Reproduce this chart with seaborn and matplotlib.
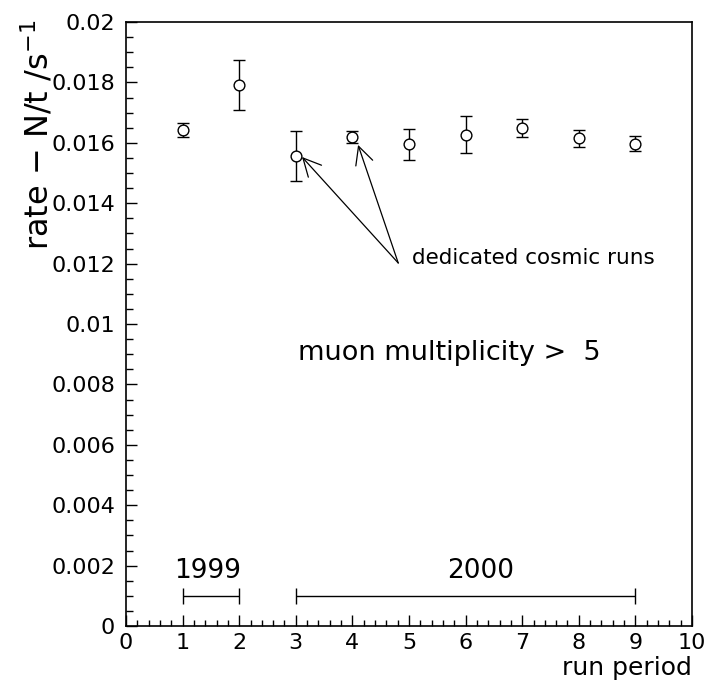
import numpy as np
import pandas as pd
import matplotlib
matplotlib.use("Agg")
import matplotlib.pyplot as plt
import seaborn as sns
from matplotlib.ticker import MultipleLocator

# ---- data ----
run_period = [1, 2, 3, 4, 5, 6, 7, 8, 9]
rate = [0.01641, 0.01790, 0.01557, 0.01620, 0.01595, 0.01627, 0.01648, 0.01615, 0.01597]
rate_err = [0.00023, 0.00083, 0.00082, 0.00020, 0.00051, 0.00062, 0.00030, 0.00028, 0.00025]

year_labels = ["1999", "2000"]
year_start = [1, 3]
year_end = [2, 9]

ytick_vals = [0, 0.002, 0.004, 0.006, 0.008, 0.01, 0.012, 0.014, 0.016, 0.018, 0.02]
ytick_labels = ["0", "0.002", "0.004", "0.006", "0.008", "0.01", "0.012", "0.014", "0.016", "0.018", "0.02"]
xtick_vals = [0, 1, 2, 3, 4, 5, 6, 7, 8, 9, 10]

df = pd.DataFrame({"run": run_period, "rate": rate, "err": rate_err})

sns.set_style("white")
plt.rcParams["font.family"] = ["DejaVu Sans"]
plt.rcParams["text.color"] = "black"

fig = plt.figure(figsize=(7.08, 6.83), dpi=100)
ax = fig.add_axes([126/708, 1 - 626/683, (692-126)/708, (626-22)/683])

ax.errorbar(df["run"], df["rate"], yerr=df["err"], fmt="none", ecolor="black",
            elinewidth=1.0, capsize=4, capthick=1.0, zorder=2)
sns.scatterplot(data=df, x="run", y="rate", ax=ax, marker="o", s=60,
                facecolor="white", edgecolor="black", linewidth=1.0, zorder=3)

ax.set_xlim(0, 10)
ax.set_ylim(0, 0.02)
ax.set_xticks(xtick_vals)
ax.set_xticklabels([str(v) for v in xtick_vals])
ax.set_yticks(ytick_vals)
ax.set_yticklabels(ytick_labels)
ax.xaxis.set_minor_locator(MultipleLocator(0.2))
ax.yaxis.set_minor_locator(MultipleLocator(0.0005))
ax.tick_params(axis="both", which="both", direction="in", top=False, right=False,
               bottom=True, left=True, colors="black", labelsize=16)
ax.tick_params(axis="x", which="major", length=8, width=1.0, pad=5)
ax.tick_params(axis="x", which="minor", length=4, width=1.0)
ax.tick_params(axis="y", which="major", length=8, width=1.0, pad=8)
ax.tick_params(axis="y", which="minor", length=5, width=1.0)
for s in ax.spines.values():
    s.set_color("black")
    s.set_linewidth(1.2)
    s.set_visible(True)
ax.set_xlabel("")
ax.set_ylabel("")

# year brackets
for lab, a, b in zip(year_labels, year_start, year_end):
    ax.errorbar([(a + b) / 2], [0.001], xerr=[[(b - a) / 2], [(b - a) / 2]], fmt="none",
                ecolor="black", elinewidth=1.0, capsize=6, capthick=1.0)
ax.text(1.45, 0.00183, "1999", ha="center", va="center", fontsize=19)
ax.text(6.27, 0.00183, "2000", ha="center", va="center", fontsize=19)

# annotations
ax.text(3.04, 0.00904, "muon multiplicity >  5", ha="left", va="center", fontsize=19.5)
ax.text(5.05, 0.01219, "dedicated cosmic runs", ha="left", va="center", fontsize=15.5)
for tip in [(3.11, 0.01553), (4.10, 0.01593)]:
    ax.annotate("", xy=tip, xytext=(4.81, 0.01202),
                arrowprops=dict(arrowstyle="->", color="black", lw=0.9,
                                mutation_scale=32, shrinkA=0, shrinkB=0))

fig.text(38/708, 1 - 20/683, "rate $-$ N/t /s$^{-1}$", rotation=90, ha="center", va="top", fontsize=23)
fig.text(692/708, 1 - 675/683, "run period", ha="right", va="baseline", fontsize=18)

fig.savefig("out.png", dpi=100)
